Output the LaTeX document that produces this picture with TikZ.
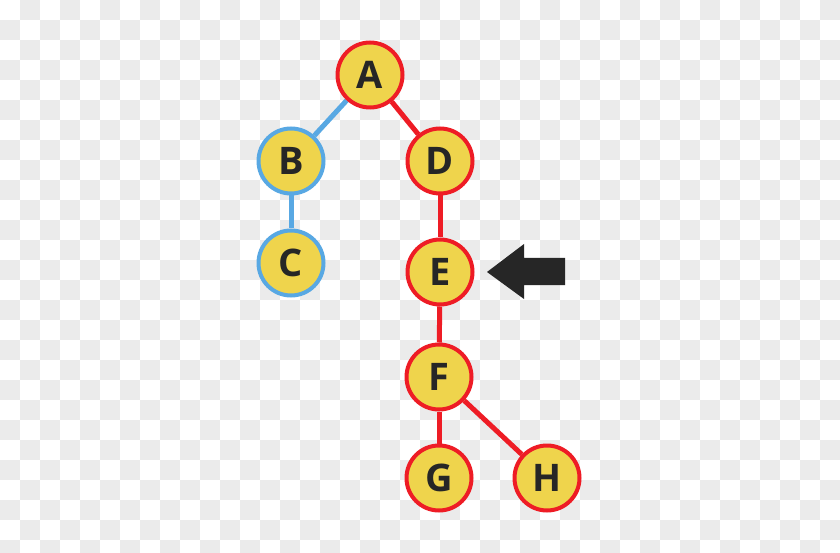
\documentclass[tikz,border=0pt]{standalone}
\usepackage{fontspec}
\setmainfont{Open Sans}
\definecolor{chk}{HTML}{EBEBEB}
\definecolor{nodefill}{HTML}{EFD44C}
\definecolor{redline}{HTML}{EE1C25}
\definecolor{blueline}{HTML}{58A8E3}
\definecolor{ink}{HTML}{262626}
\pgfdeclarelayer{bg}
\pgfdeclarelayer{edges}
\pgfsetlayers{bg,edges,main}
\tikzset{
  vert/.style={circle, fill=nodefill, line width=4pt, minimum size=65pt, inner sep=0pt,
    font=\fontsize{38}{38}\selectfont\bfseries, text=ink},
  rednode/.style={vert, draw=redline},
  bluenode/.style={vert, draw=blueline},
  rededge/.style={draw=redline, line width=5pt},
  blueedge/.style={draw=blueline, line width=5pt}
}
\begin{document}
\begin{tikzpicture}[x=1pt,y=-1pt]
\useasboundingbox (0,0) rectangle (840,553);
\begin{pgfonlayer}{bg}
  \fill[white] (0,0) rectangle (840,553);
  \foreach \i in {0,...,41}{
    \foreach \j in {0,...,27}{
      \pgfmathtruncatemacro{\chkodd}{mod(\i+\j,2)}
      \ifnum\chkodd=1 \fill[chk] (\i*20,\j*20) rectangle ++(20,20);\fi
    }
  }
\end{pgfonlayer}
\node[rednode]  (A) at (370,75)  {A};
\node[bluenode] (B) at (291,161) {B};
\node[bluenode] (C) at (291,263) {C};
\node[rednode]  (D) at (440,161) {D};
\node[rednode]  (E) at (440,272) {E};
\node[rednode]  (F) at (439,377) {F};
\node[rednode]  (G) at (439,478) {G};
\node[rednode]  (H) at (547,478) {H};
\begin{pgfonlayer}{edges}
  \draw[blueedge] (A) -- (B);
  \draw[blueedge] (B) -- (C);
  \draw[rededge] (A) -- (D);
  \draw[rededge] (D) -- (E);
  \draw[rededge] (E) -- (F);
  \draw[rededge] (F) -- (G);
  \draw[rededge] (F) -- (H);
\end{pgfonlayer}
\coordinate (tip) at (487,272);
\fill[ink] (tip) -- (524,244) -- (524,258) -- (565,258) -- (565,285) -- (524,285) -- (524,299) -- cycle;
\end{tikzpicture}
\end{document}
